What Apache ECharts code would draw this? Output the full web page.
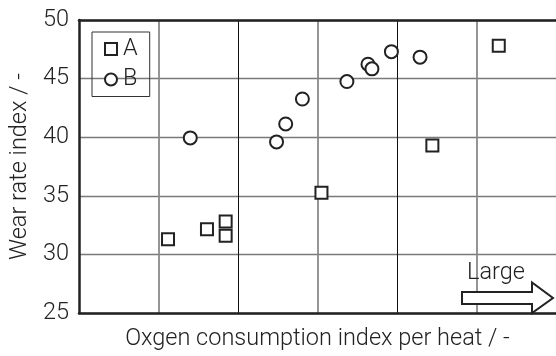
<!DOCTYPE html>
<html>
<head>
<meta charset="utf-8">
<script src="https://cdn.jsdelivr.net/npm/echarts@6/dist/echarts.min.js"></script>
<style>html,body{margin:0;padding:0;background:#fff}#c{width:556px;height:356px}</style>
</head>
<body>
<div id="c"></div>
<script>
const seriesNames = ['A', 'B'];
const aX = [1.12, 1.61, 1.845, 1.845, 3.05, 4.445, 5.28];
const aY = [31.29, 32.14, 32.8, 31.6, 35.26, 39.29, 47.81];
const bX = [1.40, 2.485, 2.60, 2.81, 3.37, 3.635, 3.685, 3.93, 4.29];
const bY = [39.94, 39.60, 41.13, 43.26, 44.75, 46.23, 45.83, 47.30, 46.83];
const yTicks = [25, 30, 35, 40, 45, 50];
const xName = 'Oxgen consumption index per heat / -';
const yName = 'Wear rate index / -';
const arrowLabel = 'Large';

const FONT = 'Roboto, "Liberation Sans", sans-serif';
const FS = 23.5;
const INK = '#222';
const pairs = (xs, ys) => xs.map((x, i) => [x, ys[i]]);

const chart = echarts.init(document.getElementById('c'), null, {renderer: 'canvas'});
chart.setOption({
  animation: false,
  backgroundColor: '#fff',
  grid: {left: 77, top: 20, width: 483.6, height: 294.3, containLabel: false},
  legend: {
    orient: 'vertical', left: 92, top: 32,
    padding: [5, 12, 5, 12], itemGap: 6.5, itemWidth: 12, itemHeight: 12,
    borderColor: '#333', borderWidth: 1, borderRadius: 0,
    textStyle: {fontFamily: FONT, fontSize: FS, fontWeight: 300, color: INK, lineHeight: 22, padding: [0, 0, 0, 1]},
    data: seriesNames
  },
  xAxis: [{
    type: 'value', min: 0, max: 6, interval: 1, position: 'bottom',
    name: xName, nameLocation: 'middle', nameGap: 14,
    nameTextStyle: {fontFamily: FONT, fontSize: FS, fontWeight: 300, color: INK},
    axisLine: {show: true, lineStyle: {color: INK, width: 2.5}},
    axisTick: {show: false}, axisLabel: {show: false},
    splitLine: {show: true, lineStyle: {color: ['rgba(0,0,0,0)', '#8a8a8a'], width: 1.8}}
  }, {
    type: 'value', min: 0, max: 6, interval: 1, position: 'top',
    axisLine: {show: true, onZero: false, lineStyle: {color: INK, width: 2.5}},
    axisTick: {show: false}, axisLabel: {show: false},
    splitLine: {show: true, lineStyle: {color: ['#111', 'rgba(0,0,0,0)'], width: 1}}
  }],
  yAxis: {
    type: 'value', min: yTicks[0], max: yTicks[yTicks.length - 1], interval: 5,
    name: yName, nameLocation: 'middle', nameGap: 45,
    nameTextStyle: {fontFamily: FONT, fontSize: FS, fontWeight: 300, color: INK},
    axisLine: {show: true, onZero: false, lineStyle: {color: INK, width: 2.5}},
    axisTick: {show: false},
    axisLabel: {fontFamily: FONT, fontSize: FS, fontWeight: 300, color: INK, margin: 10},
    splitLine: {show: true, lineStyle: {color: '#7a7a7a', width: 1.4}}
  },
  graphic: [{
    type: 'polygon', z: 100,
    shape: {points: [[462, 292], [532, 292], [532, 282.5], [553, 298], [532, 313], [532, 304], [462, 304]]},
    style: {fill: '#fff', stroke: INK, lineWidth: 2}
  }, {
    type: 'text', z: 101, left: 467, top: 261,
    style: {text: arrowLabel, fontFamily: FONT, fontSize: FS, fontWeight: 300, fill: INK}
  }],
  series: [{
    name: seriesNames[0], type: 'scatter', data: pairs(aX, aY),
    symbol: 'rect', symbolSize: 12,
    itemStyle: {color: '#fff', borderColor: INK, borderWidth: 2, opacity: 1}
  }, {
    name: seriesNames[1], type: 'scatter', data: pairs(bX, bY),
    symbol: 'circle', symbolSize: 13,
    itemStyle: {color: '#fff', borderColor: INK, borderWidth: 2, opacity: 1}
  }]
});
</script>
</body>
</html>
